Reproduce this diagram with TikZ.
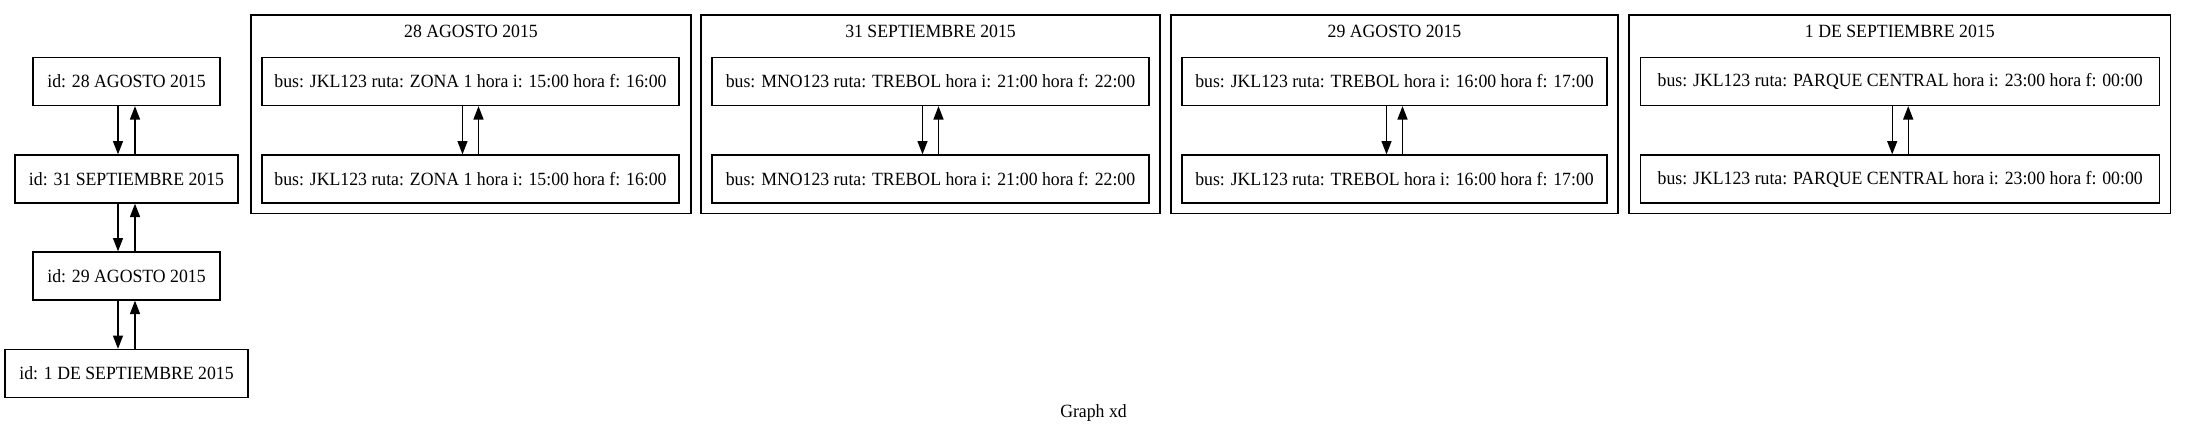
\documentclass[tikz,border=0pt]{standalone}
\usepackage{fontspec}
\setmainfont{Liberation Serif}[FakeStretch=0.95]
\usetikzlibrary{arrows.meta,calc}
\begin{document}
\begin{tikzpicture}[x=0.75pt,y=-0.75pt,
  every node/.style={font=\fontsize{14}{16.8}\selectfont},
  gvnode/.style={draw,line width=1pt,minimum height=36pt,inner sep=0pt},
  cluster/.style={draw,line width=1pt,minimum height=148.7pt,inner sep=0pt},
  title/.style={inner sep=0pt},
  arr/.style={line width=1pt,-{Triangle[length=10pt,width=7.5pt]}}]
\useasboundingbox (0,0) rectangle (2187,435);

% left column
\node[gvnode,minimum width=140.25pt] (l1) at (126.5,81.5) {id: 28 AGOSTO 2015};
\node[gvnode,minimum width=167.25pt] (l2) at (126.5,179) {id: 31 SEPTIEMBRE 2015};
\node[gvnode,minimum width=140.25pt] (l3) at (126.5,276) {id: 29 AGOSTO 2015};
\node[gvnode,minimum width=182.25pt] (l4) at (126.5,373.5) {id: 1 DE SEPTIEMBRE 2015};

\draw[arr] ($(l1.south)+(-8.5,0)$) -- ($(l2.north)+(-8.5,0)$);
\draw[arr] ($(l2.north)+(8.5,0)$) -- ($(l1.south)+(8.5,0)$);
\draw[arr] ($(l2.south)+(-8.5,0)$) -- ($(l3.north)+(-8.5,0)$);
\draw[arr] ($(l3.north)+(8.5,0)$) -- ($(l2.south)+(8.5,0)$);
\draw[arr] ($(l3.south)+(-8.5,0)$) -- ($(l4.north)+(-8.5,0)$);
\draw[arr] ($(l4.north)+(8.5,0)$) -- ($(l3.south)+(8.5,0)$);

% cluster 1
\node[cluster,minimum width=330pt] (c1) at (471,114.2) {};
\node[title] (t1) at (471,31) {28 AGOSTO 2015};
\node[gvnode,minimum width=312.75pt] (a1) at (470.5,81.5) {bus: JKL123 ruta: ZONA 1 hora i: 15:00 hora f: 16:00};
\node[gvnode,minimum width=312.75pt] (b1) at (470.5,179) {bus: JKL123 ruta: ZONA 1 hora i: 15:00 hora f: 16:00};
\draw[arr] ($(a1.south)+(-8,0)$) -- ($(b1.north)+(-8,0)$);
\draw[arr] ($(b1.north)+(8,0)$) -- ($(a1.south)+(8,0)$);

% cluster 2
\node[cluster,minimum width=344.25pt] (c2) at (930.5,114.2) {};
\node[title] (t2) at (930.5,31) {31 SEPTIEMBRE 2015};
\node[gvnode,minimum width=327.75pt] (a2) at (930.5,81.5) {bus: MNO123 ruta: TREBOL hora i: 21:00 hora f: 22:00};
\node[gvnode,minimum width=327.75pt] (b2) at (930.5,179) {bus: MNO123 ruta: TREBOL hora i: 21:00 hora f: 22:00};
\draw[arr] ($(a2.south)+(-8,0)$) -- ($(b2.north)+(-8,0)$);
\draw[arr] ($(b2.north)+(8,0)$) -- ($(a2.south)+(8,0)$);

% cluster 3
\node[cluster,minimum width=335.25pt] (c3) at (1394.5,114.2) {};
\node[title] (t3) at (1394.5,31) {29 AGOSTO 2015};
\node[gvnode,minimum width=318.75pt] (a3) at (1394.5,81.5) {bus: JKL123 ruta: TREBOL hora i: 16:00 hora f: 17:00};
\node[gvnode,minimum width=318.75pt] (b3) at (1394.5,179) {bus: JKL123 ruta: TREBOL hora i: 16:00 hora f: 17:00};
\draw[arr] ($(a3.south)+(-8,0)$) -- ($(b3.north)+(-8,0)$);
\draw[arr] ($(b3.north)+(8,0)$) -- ($(a3.south)+(8,0)$);

% cluster 4
\node[cluster,minimum width=406.2pt] (c4) at (1899.8,114.2) {};
\node[title] (t4) at (1899.8,31) {1 DE SEPTIEMBRE 2015};
\node[gvnode,minimum width=389.4pt] (a4) at (1900.2,81.5) {bus: JKL123 ruta: PARQUE CENTRAL hora i: 23:00 hora f: 00:00};
\node[gvnode,minimum width=389.4pt] (b4) at (1900.2,179) {bus: JKL123 ruta: PARQUE CENTRAL hora i: 23:00 hora f: 00:00};
\draw[arr] ($(a4.south)+(-8,0)$) -- ($(b4.north)+(-8,0)$);
\draw[arr] ($(b4.north)+(8,0)$) -- ($(a4.south)+(8,0)$);

\node[title] (gl) at (1093.5,413) {Graph xd};
\end{tikzpicture}
\end{document}
